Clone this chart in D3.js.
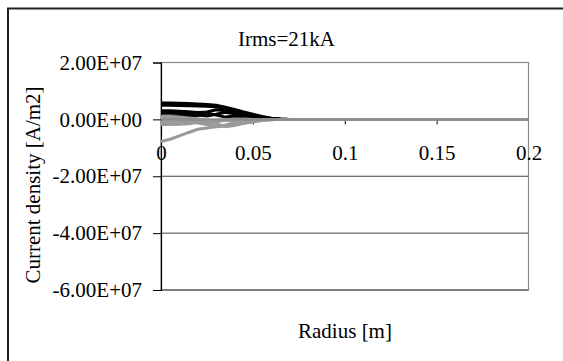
<!DOCTYPE html>
<html>
<head>
<meta charset="utf-8">
<script src="https://cdn.jsdelivr.net/npm/d3@7"></script>
<style>
  body { margin: 0; background: #fff; }
  svg text { font-family: "Liberation Serif", "Times New Roman", Tinos, "DejaVu Serif", serif !important; fill: #000; }
</style>
</head>
<body>
<div id="chart"></div>
<script>
// radius grid [m]
const radius = [0, 0.005, 0.01, 0.015, 0.02, 0.025, 0.03, 0.035, 0.04, 0.045, 0.05, 0.055, 0.06, 0.065, 0.07, 0.08, 0.1, 0.15, 0.2]

// current density, in 1e6 A/m2
const blackSeries = [
  [5.8, 5.8, 5.7, 5.6, 5.4, 5.2, 5.0, 4.3, 3.5, 2.6, 1.8, 1.0, 0.4, 0.1, 0, 0, 0, 0, 0],
  [5.0, 5.0, 4.9, 4.8, 4.7, 4.6, 4.4, 3.8, 3.0, 2.2, 1.5, 0.8, 0.3, 0.1, 0, 0, 0, 0, 0],
  [3.0, 3.0, 2.9, 2.7, 2.4, 2.6, 3.4, 3.0, 2.3, 1.6, 1.0, 0.5, 0.2, 0, 0, 0, 0, 0, 0],
  [2.2, 2.2, 2.1, 1.9, 1.5, 1.2, 1.8, 2.5, 2.0, 1.3, 0.8, 0.4, 0.1, 0, 0, 0, 0, 0, 0],
  [1.2, 1.2, 1.1, 1.0, 1.4, 2.2, 1.5, 0.8, 1.2, 0.9, 0.5, 0.2, 0.1, 0, 0, 0, 0, 0, 0]
]
const graySeries = [
  [1.0, 1.0, 0.8, 0.5, 0.2, -0.3, -0.6, -0.4, 0, 0.1, 0, 0, 0, 0, 0, 0, 0, 0, 0],
  [0.2, 0.2, 0, -0.3, -0.6, -1.2, -0.8, -0.2, -0.5, -0.3, -0.1, 0, 0, 0, 0, 0, 0, 0, 0],
  [-0.8, -0.8, -0.9, -1.0, -1.3, -1.8, -2.5, -2.0, -1.2, -0.8, -0.4, -0.1, 0, 0, 0, 0, 0, 0, 0],
  [-1.8, -1.8, -1.7, -1.5, -1.0, -0.8, -1.5, -2.6, -2.2, -1.4, -0.7, -0.3, -0.1, 0, 0, 0, 0, 0, 0],
  [-7.8, -7.0, -5.8, -4.6, -3.5, -3.0, -2.6, -2.3, -1.9, -1.4, -0.9, -0.4, -0.1, 0, 0, 0, 0, 0, 0]
]

const xTicks = [0, 0.05, 0.1, 0.15, 0.2]
const xTickLabels = ['0', '0.05', '0.1', '0.15', '0.2']
const yTicks = [2e7, 0, -2e7, -4e7, -6e7]
const yTickLabels = ['2.00E+07', '0.00E+00', '-2.00E+07', '-4.00E+07', '-6.00E+07']

const width = 563
const height = 361
const plot = {left: 161, right: 528.5, top: 62.5, bottom: 290}
const serif = '"Liberation Serif", "Times New Roman", Tinos, "DejaVu Serif", serif'

const svg = d3.select('#chart')
  .append('svg')
  .attr('width', width)
  .attr('height', height)

// outer chart frame
svg.append('rect')
  .attr('x', 8).attr('y', 8.5)
  .attr('width', 570).attr('height', 370)
  .attr('fill', 'none')
  .attr('stroke', '#222')
  .attr('stroke-width', 2)

const xScale = d3.scaleLinear().domain([0, 0.2]).range([plot.left, plot.right])
const yScale = d3.scaleLinear().domain([-6e7, 2e7]).range([plot.bottom, plot.top])

// gridlines below zero
svg.append('g')
  .selectAll('line')
  .data([-2e7, -4e7])
  .enter()
  .append('line')
  .attr('x1', plot.left).attr('x2', plot.right)
  .attr('y1', d => yScale(d)).attr('y2', d => yScale(d))
  .attr('stroke', '#444')
  .attr('stroke-width', 1)

// plot border
svg.append('rect')
  .attr('x', plot.left).attr('y', plot.top)
  .attr('width', plot.right - plot.left).attr('height', plot.bottom - plot.top)
  .attr('fill', 'none')
  .attr('stroke', '#888')
  .attr('stroke-width', 1.2)
svg.append('line')
  .attr('x1', plot.left).attr('x2', plot.right)
  .attr('y1', plot.bottom).attr('y2', plot.bottom)
  .attr('stroke', '#444')

// y axis
const yAxis = d3.axisLeft(yScale)
  .tickValues(yTicks)
  .tickFormat((d, i) => yTickLabels[i])
  .tickSize(8)
  .tickPadding(11)
const yAxisG = svg.append('g')
  .attr('transform', `translate(${plot.left},0)`)
  .call(yAxis)
  .attr('font-family', serif)
  .attr('font-size', 21)
yAxisG.select('.domain').attr('stroke', '#000').attr('stroke-width', 1.2)
yAxisG.selectAll('.tick line').attr('stroke', '#000')
yAxisG.selectAll('text').attr('fill', '#000')

// x axis on zero line
const xAxis = d3.axisBottom(xScale)
  .tickValues(xTicks)
  .tickFormat((d, i) => xTickLabels[i])
  .tickSize(5)
  .tickPadding(21)
const xAxisG = svg.append('g')
  .attr('transform', `translate(0,${yScale(0)})`)
  .call(xAxis)
  .attr('font-family', serif)
  .attr('font-size', 21)
xAxisG.select('.domain').remove()
xAxisG.selectAll('.tick line').attr('stroke', '#000').attr('stroke-width', 1)
xAxisG.selectAll('.tick').filter(d => d === 0 || d === 0.2).select('line').remove()
xAxisG.selectAll('text').attr('fill', '#000')

const line = d3.line()
  .x((d, i) => xScale(radius[i]))
  .y(d => yScale(d * 1e6))

svg.append('g')
  .selectAll('path.black')
  .data(blackSeries)
  .enter()
  .append('path')
  .attr('class', 'black')
  .attr('d', line)
  .attr('fill', 'none')
  .attr('stroke', '#000')
  .attr('stroke-width', 3)

svg.append('g')
  .selectAll('path.gray')
  .data(graySeries)
  .enter()
  .append('path')
  .attr('class', 'gray')
  .attr('d', line)
  .attr('fill', 'none')
  .attr('stroke', '#9a9a9a')
  .attr('stroke-width', 3)

// zero line
svg.append('line')
  .attr('x1', plot.left).attr('x2', plot.right)
  .attr('y1', yScale(0)).attr('y2', yScale(0))
  .attr('stroke', '#8c8c8c')
  .attr('stroke-width', 2.5)

const titles = svg.append('g')
  .attr('font-family', serif)
  .attr('font-size', 21)

titles.append('text')
  .attr('x', 286.5).attr('y', 46)
  .attr('text-anchor', 'middle')
  .text('Irms=21kA')

titles.append('text')
  .attr('x', 345).attr('y', 338)
  .attr('text-anchor', 'middle')
  .text('Radius [m]')

titles.append('text')
  .attr('transform', 'translate(40,185) rotate(-90)')
  .attr('text-anchor', 'middle')
  .text('Current density [A/m2]')
</script>
</body>
</html>
